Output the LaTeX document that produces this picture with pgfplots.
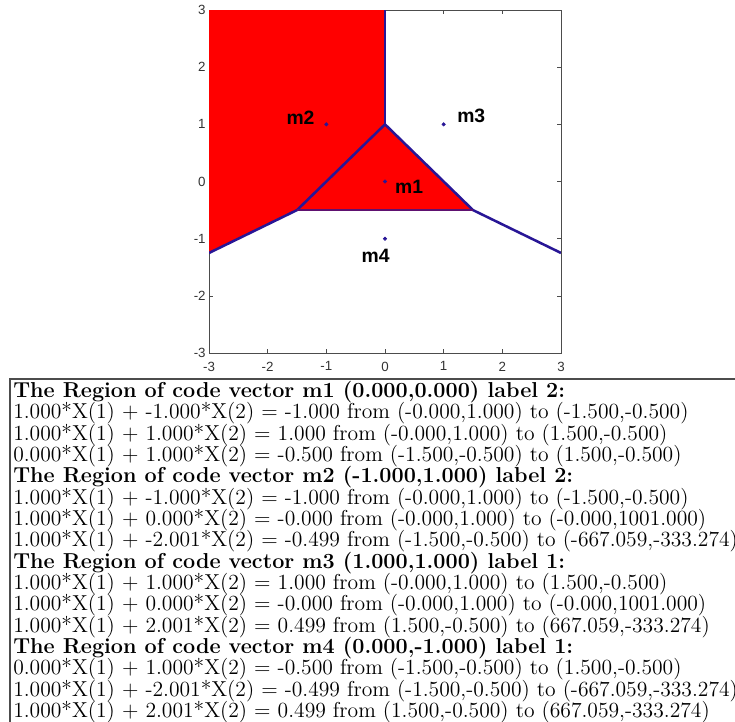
\documentclass[border=0pt]{standalone}
\usepackage{pgfplots}
\pgfplotsset{compat=1.18}
\usepackage{fontspec}
\newfontfamily\arial{Liberation Sans}
\newfontfamily\lmtw{lmroman12-regular.otf}[BoldFont=lmroman12-bold.otf]
\definecolor{bline}{RGB}{40,22,150}
\definecolor{mred}{RGB}{255,0,0}
\newcommand\tightlines{\lineskiplimit=-100pt\relax\lineskip=0pt\relax}
\begin{document}
\begin{tikzpicture}[x=0.75pt,y=-0.75pt]
\useasboundingbox (0,0) rectangle (735,721);
\begin{axis}[
  at={(156.75pt,-264.75pt)}, anchor=south west,
  scale only axis, width=264pt, height=257.25pt,
  xmin=-3, xmax=3, ymin=-3, ymax=3,
  xtick={-3,-2,-1,0,1,2,3}, ytick={-3,-2,-1,0,1,2,3},
  xticklabels={-3,-2,-1,0,1,2,3}, yticklabels={-3,-2,-1,0,1,2,3},
  tick align=inside, major tick length=3pt,
  xtick pos=both, ytick pos=both,
  axis line style={black!70, line width=0.6pt},
  tick style={black!70, line width=0.5pt},
  ticklabel style={font=\arial\fontsize{10}{11}\selectfont, text=black!80},
  xticklabel style={yshift=-3pt},
  yticklabel style={xshift=1pt},
  clip=true,
]
\addplot[fill=mred, draw=none] coordinates {(-3,3) (0,3) (0,1) (-1.5,-0.5) (-3,-1.25)} -- cycle;
\addplot[fill=mred, draw=none] coordinates {(0,1) (-1.5,-0.5) (1.5,-0.5)} -- cycle;
\addplot[bline, line width=1.9pt] coordinates {(0,3) (0,1)};
\addplot[bline, line width=1.9pt] coordinates {(0,1) (-1.5,-0.5) (-3,-1.25)};
\addplot[bline, line width=1.9pt] coordinates {(0,1) (1.5,-0.5) (3,-1.25)};
\addplot[bline!75!red, line width=1.1pt] coordinates {(-1.5,-0.5) (1.5,-0.5)};
\addplot[only marks, mark=*, mark size=1.3pt, color=bline] coordinates {(0,0) (-1,1) (1,1) (0,-1)};
\node[font=\arial\fontsize{14.5}{16}\bfseries] at (axis cs:-1.44,1.12) {m2};
\node[font=\arial\fontsize{14.5}{16}\bfseries] at (axis cs:1.47,1.14) {m3};
\node[font=\arial\fontsize{14.5}{16}\bfseries] at (axis cs:0.41,-0.10) {m1};
\node[font=\arial\fontsize{14.5}{16}\bfseries] at (axis cs:-0.16,-1.30) {m4};
\end{axis}
\draw[black!70, line width=1.1pt] (10,900) -- (10,379) -- (900,379);
\node[anchor=north west, inner sep=0pt, align=left, font={\lmtw\fontsize{16.2}{16}\selectfont\tightlines}] at (13,381) {%
\textbf{The Region of code vector m1 (0.000,0.000) label 2:}\\
1.000*X(1) + -1.000*X(2) = -1.000 from (-0.000,1.000) to (-1.500,-0.500)\\
1.000*X(1) + 1.000*X(2) = 1.000 from (-0.000,1.000) to (1.500,-0.500)\\
0.000*X(1) + 1.000*X(2) = -0.500 from (-1.500,-0.500) to (1.500,-0.500)\\
\textbf{The Region of code vector m2 (-1.000,1.000) label 2:}\\
1.000*X(1) + -1.000*X(2) = -1.000 from (-0.000,1.000) to (-1.500,-0.500)\\
1.000*X(1) + 0.000*X(2) = -0.000 from (-0.000,1.000) to (-0.000,1001.000)\\
1.000*X(1) + -2.001*X(2) = -0.499 from (-1.500,-0.500) to (-667.059,-333.274)\\
\textbf{The Region of code vector m3 (1.000,1.000) label 1:}\\
1.000*X(1) + 1.000*X(2) = 1.000 from (-0.000,1.000) to (1.500,-0.500)\\
1.000*X(1) + 0.000*X(2) = -0.000 from (-0.000,1.000) to (-0.000,1001.000)\\
1.000*X(1) + 2.001*X(2) = 0.499 from (1.500,-0.500) to (667.059,-333.274)\\
\textbf{The Region of code vector m4 (0.000,-1.000) label 1:}\\
0.000*X(1) + 1.000*X(2) = -0.500 from (-1.500,-0.500) to (1.500,-0.500)\\
1.000*X(1) + -2.001*X(2) = -0.499 from (-1.500,-0.500) to (-667.059,-333.274)\\
1.000*X(1) + 2.001*X(2) = 0.499 from (1.500,-0.500) to (667.059,-333.274)};
\end{tikzpicture}
\end{document}
